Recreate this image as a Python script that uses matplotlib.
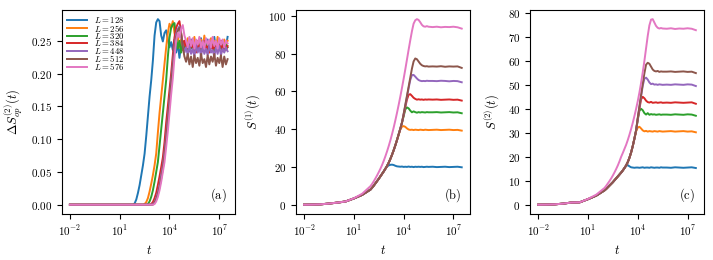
import numpy as np
import matplotlib
matplotlib.use('Agg')
from matplotlib import pyplot as plt
from matplotlib.ticker import FuncFormatter, NullLocator

plt.rcParams['mathtext.fontset'] = 'cm'
plt.rcParams['font.family'] = 'serif'
plt.rcParams['font.serif'] = ['DejaVu Serif']

L_values = [128, 256, 320, 384, 448, 512, 576]
colors = ['#1f77b4', '#ff7f0e', '#2ca02c', '#d62728', '#9467bd', '#8c564b', '#e377c2']

# log10(t) sample points
logt_a = [-2.0, -1.0, 0.0, 1.0, 1.5] + [round(1.8 + 0.1 * i, 2) for i in range(58)]
logt_bc = ([-2.0, -1.5, -1.0, -0.5, 0.0, 0.5, 1.0, 1.5]
           + [round(2.0 + 0.1 * i, 2) for i in range(36)]
           + [5.75, 6.0, 6.25, 6.5, 6.75, 7.0, 7.25, 7.5])

# panel (a): Delta S_op^(2)(t)
da_128 = [0, 0, 0, 0, 0,
          0.000, 0.002, 0.008, 0.018, 0.030, 0.045, 0.060, 0.078, 0.105, 0.135, 0.165, 0.190, 0.220,
          0.258, 0.278, 0.283, 0.280, 0.258, 0.249, 0.262, 0.266, 0.252, 0.240, 0.248, 0.236, 0.252,
          0.232, 0.246, 0.224, 0.244, 0.236, 0.250, 0.238,
          0.248, 0.236, 0.252, 0.240, 0.246, 0.234, 0.250, 0.238, 0.254, 0.236, 0.246, 0.240, 0.252,
          0.234, 0.248, 0.238, 0.256, 0.236, 0.246, 0.240, 0.250, 0.236, 0.248, 0.240, 0.256]
da_256 = [0, 0, 0, 0, 0,
          0, 0, 0, 0, 0, 0, 0,
          0.001, 0.004, 0.010, 0.020, 0.032, 0.045, 0.060, 0.078, 0.110, 0.140, 0.165, 0.190, 0.215,
          0.240, 0.262, 0.276, 0.270, 0.280, 0.262, 0.250, 0.258, 0.240, 0.252, 0.236, 0.250, 0.240,
          0.254, 0.238, 0.248, 0.242, 0.256, 0.236, 0.250, 0.240, 0.252, 0.238, 0.258, 0.240, 0.248,
          0.236, 0.254, 0.242, 0.250, 0.238, 0.256, 0.240, 0.248, 0.236, 0.252, 0.242, 0.250]
da_320 = [0, 0, 0, 0, 0,
          0, 0, 0, 0, 0, 0, 0, 0, 0,
          0.001, 0.005, 0.012, 0.022, 0.035, 0.050, 0.065, 0.090, 0.115, 0.140, 0.165, 0.190, 0.225,
          0.255, 0.270, 0.275, 0.277, 0.255, 0.238, 0.250, 0.232, 0.246, 0.236, 0.244,
          0.234, 0.248, 0.238, 0.246, 0.232, 0.250, 0.236, 0.244, 0.234, 0.250, 0.238, 0.246, 0.232,
          0.248, 0.240, 0.244, 0.234, 0.250, 0.236, 0.246, 0.238, 0.248, 0.234, 0.244, 0.240]
da_384 = [0, 0, 0, 0, 0,
          0, 0, 0, 0, 0, 0, 0, 0, 0, 0, 0,
          0.001, 0.004, 0.010, 0.018, 0.030, 0.043, 0.057, 0.072, 0.095, 0.125, 0.150, 0.175, 0.200,
          0.228, 0.255, 0.270, 0.276, 0.280, 0.262, 0.244, 0.250, 0.236,
          0.246, 0.234, 0.250, 0.238, 0.244, 0.232, 0.248, 0.236, 0.246, 0.234, 0.250, 0.238, 0.242,
          0.232, 0.248, 0.236, 0.246, 0.234, 0.244, 0.238, 0.250, 0.234, 0.246, 0.236, 0.242]
da_448 = [0, 0, 0, 0, 0,
          0, 0, 0, 0, 0, 0, 0, 0, 0, 0, 0, 0,
          0.001, 0.004, 0.010, 0.019, 0.030, 0.045, 0.060, 0.080, 0.105, 0.132, 0.160, 0.188, 0.215,
          0.242, 0.260, 0.268, 0.272, 0.258, 0.242, 0.232, 0.240,
          0.228, 0.242, 0.230, 0.238, 0.226, 0.244, 0.232, 0.240, 0.226, 0.242, 0.230, 0.238, 0.228,
          0.244, 0.232, 0.236, 0.226, 0.240, 0.230, 0.242, 0.228, 0.238, 0.232, 0.240, 0.234]
da_512 = [0, 0, 0, 0, 0,
          0, 0, 0, 0, 0, 0, 0, 0, 0, 0, 0, 0, 0,
          0.003, 0.008, 0.016, 0.027, 0.040, 0.055, 0.075, 0.100, 0.127, 0.155, 0.183, 0.210, 0.236,
          0.255, 0.265, 0.270, 0.262, 0.240, 0.226, 0.218,
          0.230, 0.214, 0.226, 0.210, 0.228, 0.216, 0.224, 0.212, 0.230, 0.216, 0.222, 0.210, 0.228,
          0.214, 0.226, 0.218, 0.230, 0.212, 0.224, 0.216, 0.228, 0.210, 0.226, 0.214, 0.222]
da_576 = [0, 0, 0, 0, 0,
          0, 0, 0, 0, 0, 0, 0, 0, 0, 0, 0, 0, 0,
          0.001, 0.005, 0.012, 0.022, 0.035, 0.050, 0.065, 0.088, 0.112, 0.140, 0.168, 0.193, 0.225,
          0.250, 0.262, 0.255, 0.268, 0.274, 0.258, 0.250,
          0.240, 0.256, 0.242, 0.254, 0.238, 0.252, 0.244, 0.256, 0.240, 0.250, 0.238, 0.254, 0.244,
          0.252, 0.240, 0.256, 0.242, 0.250, 0.238, 0.254, 0.244, 0.252, 0.240, 0.250, 0.246]

# panel (b): S^(1)(t)
s1_128 = [0.0, 0.05, 0.2, 0.6, 1.1, 1.7, 3.3, 5.2,
          8.0, 9.0, 10.1, 11.3, 12.5, 13.7, 15.0, 16.3, 17.6, 19.0,
          20.2, 20.8, 21.1, 21.2, 21.0, 20.6, 20.3, 20.2, 20.1, 20.2,
          20.0, 20.1, 20.0, 20.2, 20.0, 20.1, 19.9, 20.1, 20.0, 20.1,
          20.0, 20.1, 19.9, 20.0, 20.1, 20.0,
          20.1, 19.9, 20.0, 20.1, 19.9, 20.0, 20.1, 19.8]
s1_256 = [0.0, 0.05, 0.2, 0.6, 1.1, 1.7, 3.3, 5.2,
          8.0, 9.0, 10.1, 11.3, 12.5, 13.7, 15.0, 16.3, 17.6, 19.0,
          20.5, 22.2, 24.2, 26.4, 28.8, 31.4, 34.2, 37.0, 39.8, 41.3,
          41.6, 41.2, 40.4, 39.8, 39.6, 39.7, 39.5, 39.7, 39.6, 39.5,
          39.7, 39.6, 39.5, 39.7, 39.6, 39.5,
          39.6, 39.7, 39.5, 39.6, 39.7, 39.5, 39.6, 39.2]
s1_320 = [0.0, 0.05, 0.2, 0.6, 1.1, 1.7, 3.3, 5.2,
          8.0, 9.0, 10.1, 11.3, 12.5, 13.7, 15.0, 16.3, 17.6, 19.0,
          20.5, 22.2, 24.2, 26.4, 28.8, 31.4, 34.2, 37.2, 40.2, 43.4,
          46.8, 50.4, 51.5, 51.0, 49.8, 48.9, 49.4, 49.0, 48.7, 49.0,
          48.8, 49.0, 48.9, 48.8, 49.0, 48.9,
          48.9, 49.0, 48.8, 48.9, 49.0, 48.8, 48.9, 48.4]
s1_384 = [0.0, 0.05, 0.2, 0.6, 1.1, 1.7, 3.3, 5.2,
          8.0, 9.0, 10.1, 11.3, 12.5, 13.7, 15.0, 16.3, 17.6, 19.0,
          20.5, 22.2, 24.2, 26.4, 28.8, 31.4, 34.2, 37.2, 40.2, 43.4,
          47.4, 51.6, 55.6, 58.2, 58.5, 57.6, 56.6, 56.0, 55.6, 55.8,
          55.6, 55.7, 55.5, 55.7, 55.6, 55.7,
          55.6, 55.7, 55.5, 55.6, 55.7, 55.5, 55.6, 55.1]
s1_448 = [0.0, 0.05, 0.2, 0.6, 1.1, 1.7, 3.3, 5.2,
          8.0, 9.0, 10.1, 11.3, 12.5, 13.7, 15.0, 16.3, 17.6, 19.0,
          20.5, 22.2, 24.2, 26.4, 28.8, 31.4, 34.2, 37.2, 40.2, 43.4,
          47.8, 52.4, 57.0, 61.6, 66.0, 68.6, 68.7, 67.8, 66.8, 66.0,
          65.6, 65.4, 65.5, 65.4, 65.6, 65.5,
          65.5, 65.4, 65.6, 65.5, 65.3, 65.5, 65.4, 64.8]
s1_512 = [0.0, 0.05, 0.2, 0.6, 1.1, 1.7, 3.3, 5.2,
          8.0, 9.0, 10.1, 11.3, 12.5, 13.7, 15.0, 16.3, 17.6, 19.0,
          20.5, 22.2, 24.2, 26.4, 28.8, 31.4, 34.2, 37.2, 40.2, 43.4,
          48.0, 52.8, 57.6, 62.4, 67.2, 72.0, 75.8, 77.4, 77.0, 75.8,
          74.6, 73.8, 73.4, 73.2, 73.3, 73.1,
          73.2, 73.1, 73.3, 73.0, 73.2, 73.1, 73.2, 72.4]
s1_576 = [0.0, 0.05, 0.2, 0.6, 1.1, 1.7, 3.4, 5.8,
          9.8, 11.0, 12.4, 13.9, 15.5, 17.2, 19.0, 21.0, 23.2, 25.6,
          28.2, 31.0, 34.0, 37.3, 40.8, 44.6, 48.6, 52.8, 57.2, 61.8,
          66.6, 71.6, 76.8, 82.0, 87.0, 91.8, 95.8, 97.6, 98.2, 97.8,
          96.6, 95.2, 94.4, 94.2, 94.5, 94.2,
          94.0, 94.2, 93.9, 94.1, 94.0, 94.2, 93.9, 93.2]

# panel (c): S^(2)(t)
s2_128 = [0.0, 0.05, 0.15, 0.45, 0.9, 1.0, 2.3, 3.8,
          6.0, 6.6, 7.3, 8.0, 8.7, 9.4, 10.2, 11.0, 11.8, 12.6,
          13.4, 14.3, 15.3, 16.2, 16.5, 16.0, 15.6, 15.5, 15.4, 15.5,
          15.5, 15.4, 15.5, 15.6, 15.4, 15.5, 15.5, 15.4, 15.6, 15.5,
          15.4, 15.5, 15.5, 15.4, 15.6, 15.5,
          15.5, 15.4, 15.6, 15.5, 15.4, 15.5, 15.6, 15.3]
s2_256 = [0.0, 0.05, 0.15, 0.45, 0.9, 1.0, 2.3, 3.8,
          6.0, 6.6, 7.3, 8.0, 8.7, 9.4, 10.2, 11.0, 11.8, 12.6,
          13.4, 14.3, 15.3, 16.4, 17.8, 19.6, 21.8, 24.5, 27.6, 30.6,
          32.2, 32.5, 31.8, 31.0, 30.6, 30.8, 30.5, 30.7, 30.6, 30.5,
          30.7, 30.6, 30.5, 30.7, 30.6, 30.5,
          30.6, 30.7, 30.5, 30.6, 30.7, 30.5, 30.6, 30.2]
s2_320 = [0.0, 0.05, 0.15, 0.45, 0.9, 1.0, 2.3, 3.8,
          6.0, 6.6, 7.3, 8.0, 8.7, 9.4, 10.2, 11.0, 11.8, 12.6,
          13.4, 14.3, 15.3, 16.4, 17.8, 19.6, 21.8, 24.5, 27.6, 31.0,
          35.4, 39.2, 40.0, 39.4, 38.2, 37.6, 38.2, 37.5, 37.8, 37.6,
          37.7, 37.5, 37.6, 37.7, 37.5, 37.6,
          37.6, 37.5, 37.7, 37.6, 37.5, 37.7, 37.6, 37.1]
s2_384 = [0.0, 0.05, 0.15, 0.45, 0.9, 1.0, 2.3, 3.8,
          6.0, 6.6, 7.3, 8.0, 8.7, 9.4, 10.2, 11.0, 11.8, 12.6,
          13.4, 14.3, 15.3, 16.4, 17.8, 19.6, 21.8, 24.5, 27.6, 31.0,
          35.8, 40.0, 44.0, 45.0, 44.4, 43.4, 42.8, 42.6, 42.9, 42.5,
          42.6, 42.7, 42.5, 42.6, 42.7, 42.5,
          42.6, 42.5, 42.7, 42.6, 42.5, 42.6, 42.7, 42.1]
s2_448 = [0.0, 0.05, 0.15, 0.45, 0.9, 1.0, 2.3, 3.8,
          6.0, 6.6, 7.3, 8.0, 8.7, 9.4, 10.2, 11.0, 11.8, 12.6,
          13.4, 14.3, 15.3, 16.4, 17.8, 19.6, 21.8, 24.5, 27.6, 31.0,
          36.0, 40.6, 45.2, 49.6, 52.6, 53.0, 52.2, 51.0, 50.3, 50.5,
          50.1, 50.2, 50.0, 50.2, 50.1, 50.0,
          50.1, 50.0, 50.2, 50.1, 50.0, 50.2, 50.1, 49.5]
s2_512 = [0.0, 0.05, 0.15, 0.45, 0.9, 1.0, 2.3, 3.8,
          6.0, 6.6, 7.3, 8.0, 8.7, 9.4, 10.2, 11.0, 11.8, 12.6,
          13.4, 14.3, 15.3, 16.4, 17.8, 19.6, 21.8, 24.5, 27.6, 31.0,
          36.2, 41.0, 45.8, 50.4, 54.8, 58.4, 59.2, 58.8, 57.6, 56.4,
          55.8, 55.6, 55.8, 55.4, 55.6, 55.5,
          55.5, 55.6, 55.4, 55.5, 55.6, 55.4, 55.5, 54.9]
s2_576 = [0.0, 0.05, 0.15, 0.45, 0.9, 1.0, 2.4, 4.2,
          7.0, 7.9, 8.9, 9.9, 11.0, 12.2, 13.5, 14.9, 16.4, 18.1,
          20.0, 21.6, 23.3, 25.0, 27.0, 29.2, 31.6, 34.2, 37.0, 40.0,
          43.2, 46.8, 50.8, 55.2, 60.0, 65.2, 70.4, 74.8, 77.2, 77.4,
          76.0, 74.6, 73.8, 73.5, 73.7, 73.5,
          73.4, 73.6, 73.3, 73.5, 73.4, 73.6, 73.4, 72.8]

panel_a = [da_128, da_256, da_320, da_384, da_448, da_512, da_576]
panel_b = [s1_128, s1_256, s1_320, s1_384, s1_448, s1_512, s1_576]
panel_c = [s2_128, s2_256, s2_320, s2_384, s2_448, s2_512, s2_576]

t_a = 10.0 ** np.array(logt_a)
t_bc = 10.0 ** np.array(logt_bc)

fig, axes = plt.subplots(1, 3, figsize=(7.13, 2.6), dpi=100)
fig.subplots_adjust(left=0.087, right=0.987, bottom=0.177, top=0.962, wspace=0.35)

series = [(t_a, panel_a), (t_bc, panel_b), (t_bc, panel_c)]
ylabels = [r'$\Delta S^{(2)}_{op}(t)$', r'$S^{(1)}(t)$', r'$S^{(2)}(t)$']
letters = ['(a)', '(b)', '(c)']
yticks = [np.arange(0, 0.26, 0.05), np.arange(0, 101, 20), np.arange(0, 81, 10)]
yfmt = ['${:.2f}$', '${:.0f}$', '${:.0f}$']

for i, ax in enumerate(axes):
	t, data = series[i]
	for L, vals, c in zip(L_values, data, colors):
		ax.plot(t, vals, color=c, lw=1.4, label=r'$L=%d$' % L)
	ax.set_xscale('log')
	ax.set_xticks([1e-2, 1e1, 1e4, 1e7])
	ax.xaxis.set_minor_locator(NullLocator())
	ax.xaxis.set_major_formatter(FuncFormatter(lambda v, p: '$10^{%d}$' % int(round(np.log10(v)))))
	ax.set_yticks(yticks[i])
	ax.yaxis.set_major_formatter(FuncFormatter(lambda v, p, f=yfmt[i]: f.format(v)))
	ax.tick_params(labelsize=8)
	ax.set_xlabel(r'$t$', fontsize=9)
	ax.set_ylabel(ylabels[i], fontsize=9)
	ax.text(0.95, 0.05, r'$\mathrm{%s}$' % letters[i], transform=ax.transAxes,
			ha='right', va='bottom', fontsize=9)

axes[0].legend(loc='upper left', fontsize=6.3, frameon=False, handlelength=2.2,
			   labelspacing=-0.3, borderaxespad=0.3, borderpad=0.3, handletextpad=0.9)

fig.savefig('out.png', dpi=100)
